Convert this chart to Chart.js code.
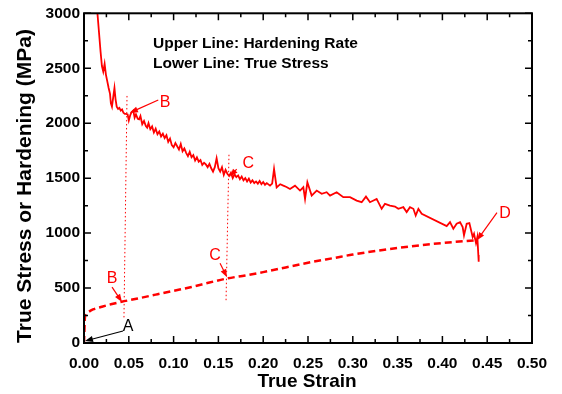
<!DOCTYPE html>
<html>
<head>
<meta charset="utf-8">
<script src="https://cdn.jsdelivr.net/npm/chart.js@4/dist/chart.umd.min.js"></script>
<style>
  body { margin: 0; background: #fff; }
  canvas { display: block; }
</style>
</head>
<body>
<canvas id="chart" width="562" height="394"></canvas>
<script>
// hardening rate (upper, solid)
const hardStrain = [
  0.0140, 0.0165, 0.0185, 0.0200, 0.0215, 0.0230, 0.0245, 0.0260, 0.0275, 0.0290,
  0.0300, 0.0312, 0.0325, 0.0340, 0.0352, 0.0365, 0.0380, 0.0395, 0.0410, 0.0425,
  0.0440, 0.0455, 0.0470, 0.0487, 0.0500, 0.0515, 0.0530, 0.0550, 0.0565, 0.0580,
  0.0600, 0.0615, 0.0630, 0.0650, 0.0670, 0.0690, 0.0705, 0.0720, 0.0740, 0.0760,
  0.0780, 0.0800, 0.0820, 0.0840, 0.0860, 0.0880, 0.0900, 0.0920, 0.0940, 0.0960,
  0.0980, 0.1000, 0.1020, 0.1040, 0.1060, 0.1080, 0.1100, 0.1120, 0.1140, 0.1160,
  0.1180, 0.1200, 0.1220, 0.1240, 0.1260, 0.1280, 0.1300, 0.1320, 0.1340, 0.1360,
  0.1380, 0.1400, 0.1420, 0.1440, 0.1460, 0.1480, 0.1500, 0.1520, 0.1540, 0.1560,
  0.1580, 0.1600, 0.1620, 0.1640, 0.1660, 0.1680, 0.1700, 0.1720, 0.1740, 0.1760,
  0.1780, 0.1800, 0.1820, 0.1840, 0.1860, 0.1880, 0.1900, 0.1920, 0.1940, 0.1960,
  0.1980, 0.2000, 0.2020, 0.2040, 0.2076, 0.2100, 0.2121, 0.2150, 0.2190, 0.2225,
  0.2260, 0.2299, 0.2355, 0.2411, 0.2448, 0.2467, 0.2493, 0.2541, 0.2597, 0.2653,
  0.2708, 0.2746, 0.2820, 0.2894, 0.2969, 0.3043, 0.3099, 0.3147, 0.3192, 0.3266,
  0.3322, 0.3359, 0.3415, 0.3471, 0.3508, 0.3564, 0.3601, 0.3638, 0.3676, 0.3702,
  0.3732, 0.3769, 0.4048, 0.4085, 0.4122, 0.4159, 0.4197, 0.4226, 0.4241, 0.4271,
  0.4301, 0.4338, 0.4353, 0.4375, 0.4390, 0.4401, 0.4405
];
const hardRate = [
  3100, 2850, 2650, 2520, 2470, 2540, 2440, 2380, 2320, 2270,
  2180, 2150, 2230, 2320, 2220, 2150, 2130, 2140, 2115, 2125,
  2095, 2085, 2085, 2080, 2025, 2070, 2100, 2115, 2050, 2080,
  2040, 2035, 2065, 1990, 2020, 1975, 1960, 2000, 1945, 1970,
  1915, 1950, 1900, 1925, 1880, 1905, 1865, 1890, 1830, 1860,
  1800, 1780, 1820, 1790, 1760, 1810, 1745, 1770, 1730, 1700,
  1740, 1690, 1710, 1660, 1690, 1650, 1665, 1620, 1640, 1625,
  1600, 1630, 1590, 1560, 1600, 1680, 1590, 1560, 1600, 1530,
  1575, 1540, 1520, 1550, 1500, 1535, 1510, 1525, 1490, 1515,
  1480, 1500, 1470, 1495, 1460, 1480, 1455, 1470, 1450, 1475,
  1445, 1465, 1440, 1455, 1432, 1450, 1583, 1415, 1445, 1432,
  1420, 1402, 1432, 1387, 1417, 1311, 1462, 1341, 1387, 1357,
  1372, 1341, 1372, 1327, 1327, 1296, 1281, 1332, 1281, 1311,
  1221, 1266, 1251, 1242, 1221, 1236, 1191, 1236, 1221, 1160,
  1221, 1176, 1064, 1100, 1040, 1085, 1100, 1055, 979, 1085,
  1091, 964, 994, 909, 964, 800, 740
];

// true stress (lower, dashed)
const stressStrain = [
  0, 0.0005, 0.001, 0.003, 0.01, 0.02, 0.03, 0.042, 0.06, 0.08,
  0.10, 0.12, 0.14, 0.159, 0.18, 0.20, 0.25, 0.28, 0.30, 0.35,
  0.40, 0.437
];
const trueStress = [
  0, 120, 230, 270, 305, 330, 352, 375, 405, 440,
  475, 510, 550, 586, 615, 645, 730, 775, 805, 865,
  910, 935
];

const xTickStep = 0.05;
const yTickStep = 500;

const RED = '#ff0000';
const FONT = 'Arial, "Liberation Sans", sans-serif';

// annotations in data units: [x, y]
const labels = [
  { t: 'B', x: 0.0904, y: 2187, c: RED },
  { t: 'C', x: 0.1834, y: 1629, c: RED },
  { t: 'B', x: 0.0313, y: 589, c: RED },
  { t: 'C', x: 0.1462, y: 798, c: RED },
  { t: 'A', x: 0.0491, y: 145, c: '#000' },
  { t: 'D', x: 0.4699, y: 1178, c: RED }
];
const arrows = [
  { from: [0.0829, 2211], to: [0.0513, 2096], c: RED },
  { from: [0.1704, 1583], to: [0.1629, 1514], c: RED },
  { from: [0.0313, 508], to: [0.0424, 372], c: RED },
  { from: [0.1518, 725], to: [0.1596, 598], c: RED },
  { from: [0.0435, 109], to: [0.0011, 18], c: '#000' },
  { from: [0.4609, 1187], to: [0.4386, 934], c: RED }
];
const dotted = [
  { from: [0.0480, 2248], to: [0.0446, 227] },
  { from: [0.1618, 1713], to: [0.1585, 372] }
];

function toXY(a, b) { return a.map((v, i) => ({ x: v, y: b[i] })); }

const framePlugin = {
  id: 'frame',
  afterDatasetsDraw(chart) {
    const { ctx, chartArea: a, scales: { x, y } } = chart;
    ctx.save();

    // dotted guide lines
    ctx.strokeStyle = RED;
    ctx.lineWidth = 1;
    ctx.setLineDash([1.5, 2.5]);
    dotted.forEach(d => {
      ctx.beginPath();
      ctx.moveTo(x.getPixelForValue(d.from[0]), y.getPixelForValue(d.from[1]));
      ctx.lineTo(x.getPixelForValue(d.to[0]), y.getPixelForValue(d.to[1]));
      ctx.stroke();
    });
    ctx.setLineDash([]);

    // arrows
    arrows.forEach(ar => {
      const x1 = x.getPixelForValue(ar.from[0]), y1 = y.getPixelForValue(ar.from[1]);
      const x2 = x.getPixelForValue(ar.to[0]), y2 = y.getPixelForValue(ar.to[1]);
      const ang = Math.atan2(y2 - y1, x2 - x1);
      ctx.strokeStyle = ar.c;
      ctx.fillStyle = ar.c;
      ctx.lineWidth = 1.2;
      ctx.beginPath();
      ctx.moveTo(x1, y1);
      ctx.lineTo(x2 - 5 * Math.cos(ang), y2 - 5 * Math.sin(ang));
      ctx.stroke();
      ctx.beginPath();
      ctx.moveTo(x2, y2);
      ctx.lineTo(x2 - 8 * Math.cos(ang) + 3 * Math.sin(ang), y2 - 8 * Math.sin(ang) - 3 * Math.cos(ang));
      ctx.lineTo(x2 - 8 * Math.cos(ang) - 3 * Math.sin(ang), y2 - 8 * Math.sin(ang) + 3 * Math.cos(ang));
      ctx.closePath();
      ctx.fill();
    });

    // letters
    ctx.font = '16px ' + FONT;
    ctx.textAlign = 'center';
    ctx.textBaseline = 'middle';
    labels.forEach(l => {
      ctx.fillStyle = l.c;
      ctx.fillText(l.t, x.getPixelForValue(l.x), y.getPixelForValue(l.y));
    });

    // legend text
    ctx.fillStyle = '#000';
    ctx.font = 'bold 15.5px ' + FONT;
    ctx.textAlign = 'left';
    ctx.fillText('Upper Line: Hardening Rate', x.getPixelForValue(0.077), y.getPixelForValue(2719));
    ctx.fillText('Lower Line: True Stress', x.getPixelForValue(0.077), y.getPixelForValue(2540));

    // frame
    ctx.strokeStyle = '#000';
    ctx.lineWidth = 2;
    ctx.strokeRect(a.left, a.top, a.right - a.left, a.bottom - a.top);

    // inward ticks on all sides
    ctx.lineWidth = 1.5;
    const xt = [];
    for (let v = 0; v <= x.max + 1e-9; v += xTickStep / 2) xt.push(v);
    xt.forEach((v, i) => {
      const px = x.getPixelForValue(v);
      const len = i % 2 === 0 ? 7 : 4;
      ctx.beginPath();
      ctx.moveTo(px, a.bottom); ctx.lineTo(px, a.bottom - len);
      ctx.moveTo(px, a.top); ctx.lineTo(px, a.top + len);
      ctx.stroke();
    });
    const yt = [];
    for (let v = 0; v <= y.max + 1e-9; v += yTickStep / 2) yt.push(v);
    yt.forEach((v, i) => {
      const py = y.getPixelForValue(v);
      const len = i % 2 === 0 ? 7 : 4;
      ctx.beginPath();
      ctx.moveTo(a.left, py); ctx.lineTo(a.left + len, py);
      ctx.moveTo(a.right, py); ctx.lineTo(a.right - len, py);
      ctx.stroke();
    });

    // axis titles
    ctx.fillStyle = '#000';
    ctx.textAlign = 'center';
    ctx.textBaseline = 'middle';
    ctx.font = 'bold 19px ' + FONT;
    ctx.fillText('True Strain', (a.left + a.right) / 2 - 1, 382);
    ctx.save();
    ctx.translate(25, 186);
    ctx.rotate(-Math.PI / 2);
    ctx.font = 'bold 21px ' + FONT;
    ctx.fillText('True Stress or Hardening (MPa)', 0, 0);
    ctx.restore();

    ctx.restore();
  }
};

new Chart(document.getElementById('chart'), {
  type: 'line',
  data: {
    datasets: [
      {
        label: 'Hardening Rate',
        data: toXY(hardStrain, hardRate),
        borderColor: RED,
        borderWidth: 1.8,
        pointRadius: 0,
        tension: 0
      },
      {
        label: 'True Stress',
        data: toXY(stressStrain, trueStress),
        borderColor: RED,
        borderWidth: 2.5,
        borderDash: [7, 4],
        pointRadius: 0,
        cubicInterpolationMode: 'monotone'
      }
    ]
  },
  options: {
    responsive: false,
    animation: false,
    devicePixelRatio: 1,
    layout: { padding: { top: 12, right: 30, left: 0, bottom: 0 } },
    plugins: { legend: { display: false }, tooltip: { enabled: false } },
    scales: {
      x: {
        type: 'linear',
        min: 0,
        max: 0.5,
        grid: { display: false, drawTicks: false },
        border: { display: false },
        ticks: {
          stepSize: xTickStep,
          padding: 11,
          color: '#000',
          font: { family: FONT, size: 15.5, weight: 'bold' },
          callback: v => v.toFixed(2)
        },
        afterFit: s => { s.height = 51; }
      },
      y: {
        min: 0,
        max: 3000,
        grid: { display: false, drawTicks: false },
        border: { display: false },
        ticks: {
          stepSize: yTickStep,
          padding: 4,
          color: '#000',
          font: { family: FONT, size: 15.5, weight: 'bold' },
          callback: v => String(v)
        },
        afterFit: s => { s.width = 84; }
      }
    }
  },
  plugins: [framePlugin]
});
</script>
</body>
</html>
